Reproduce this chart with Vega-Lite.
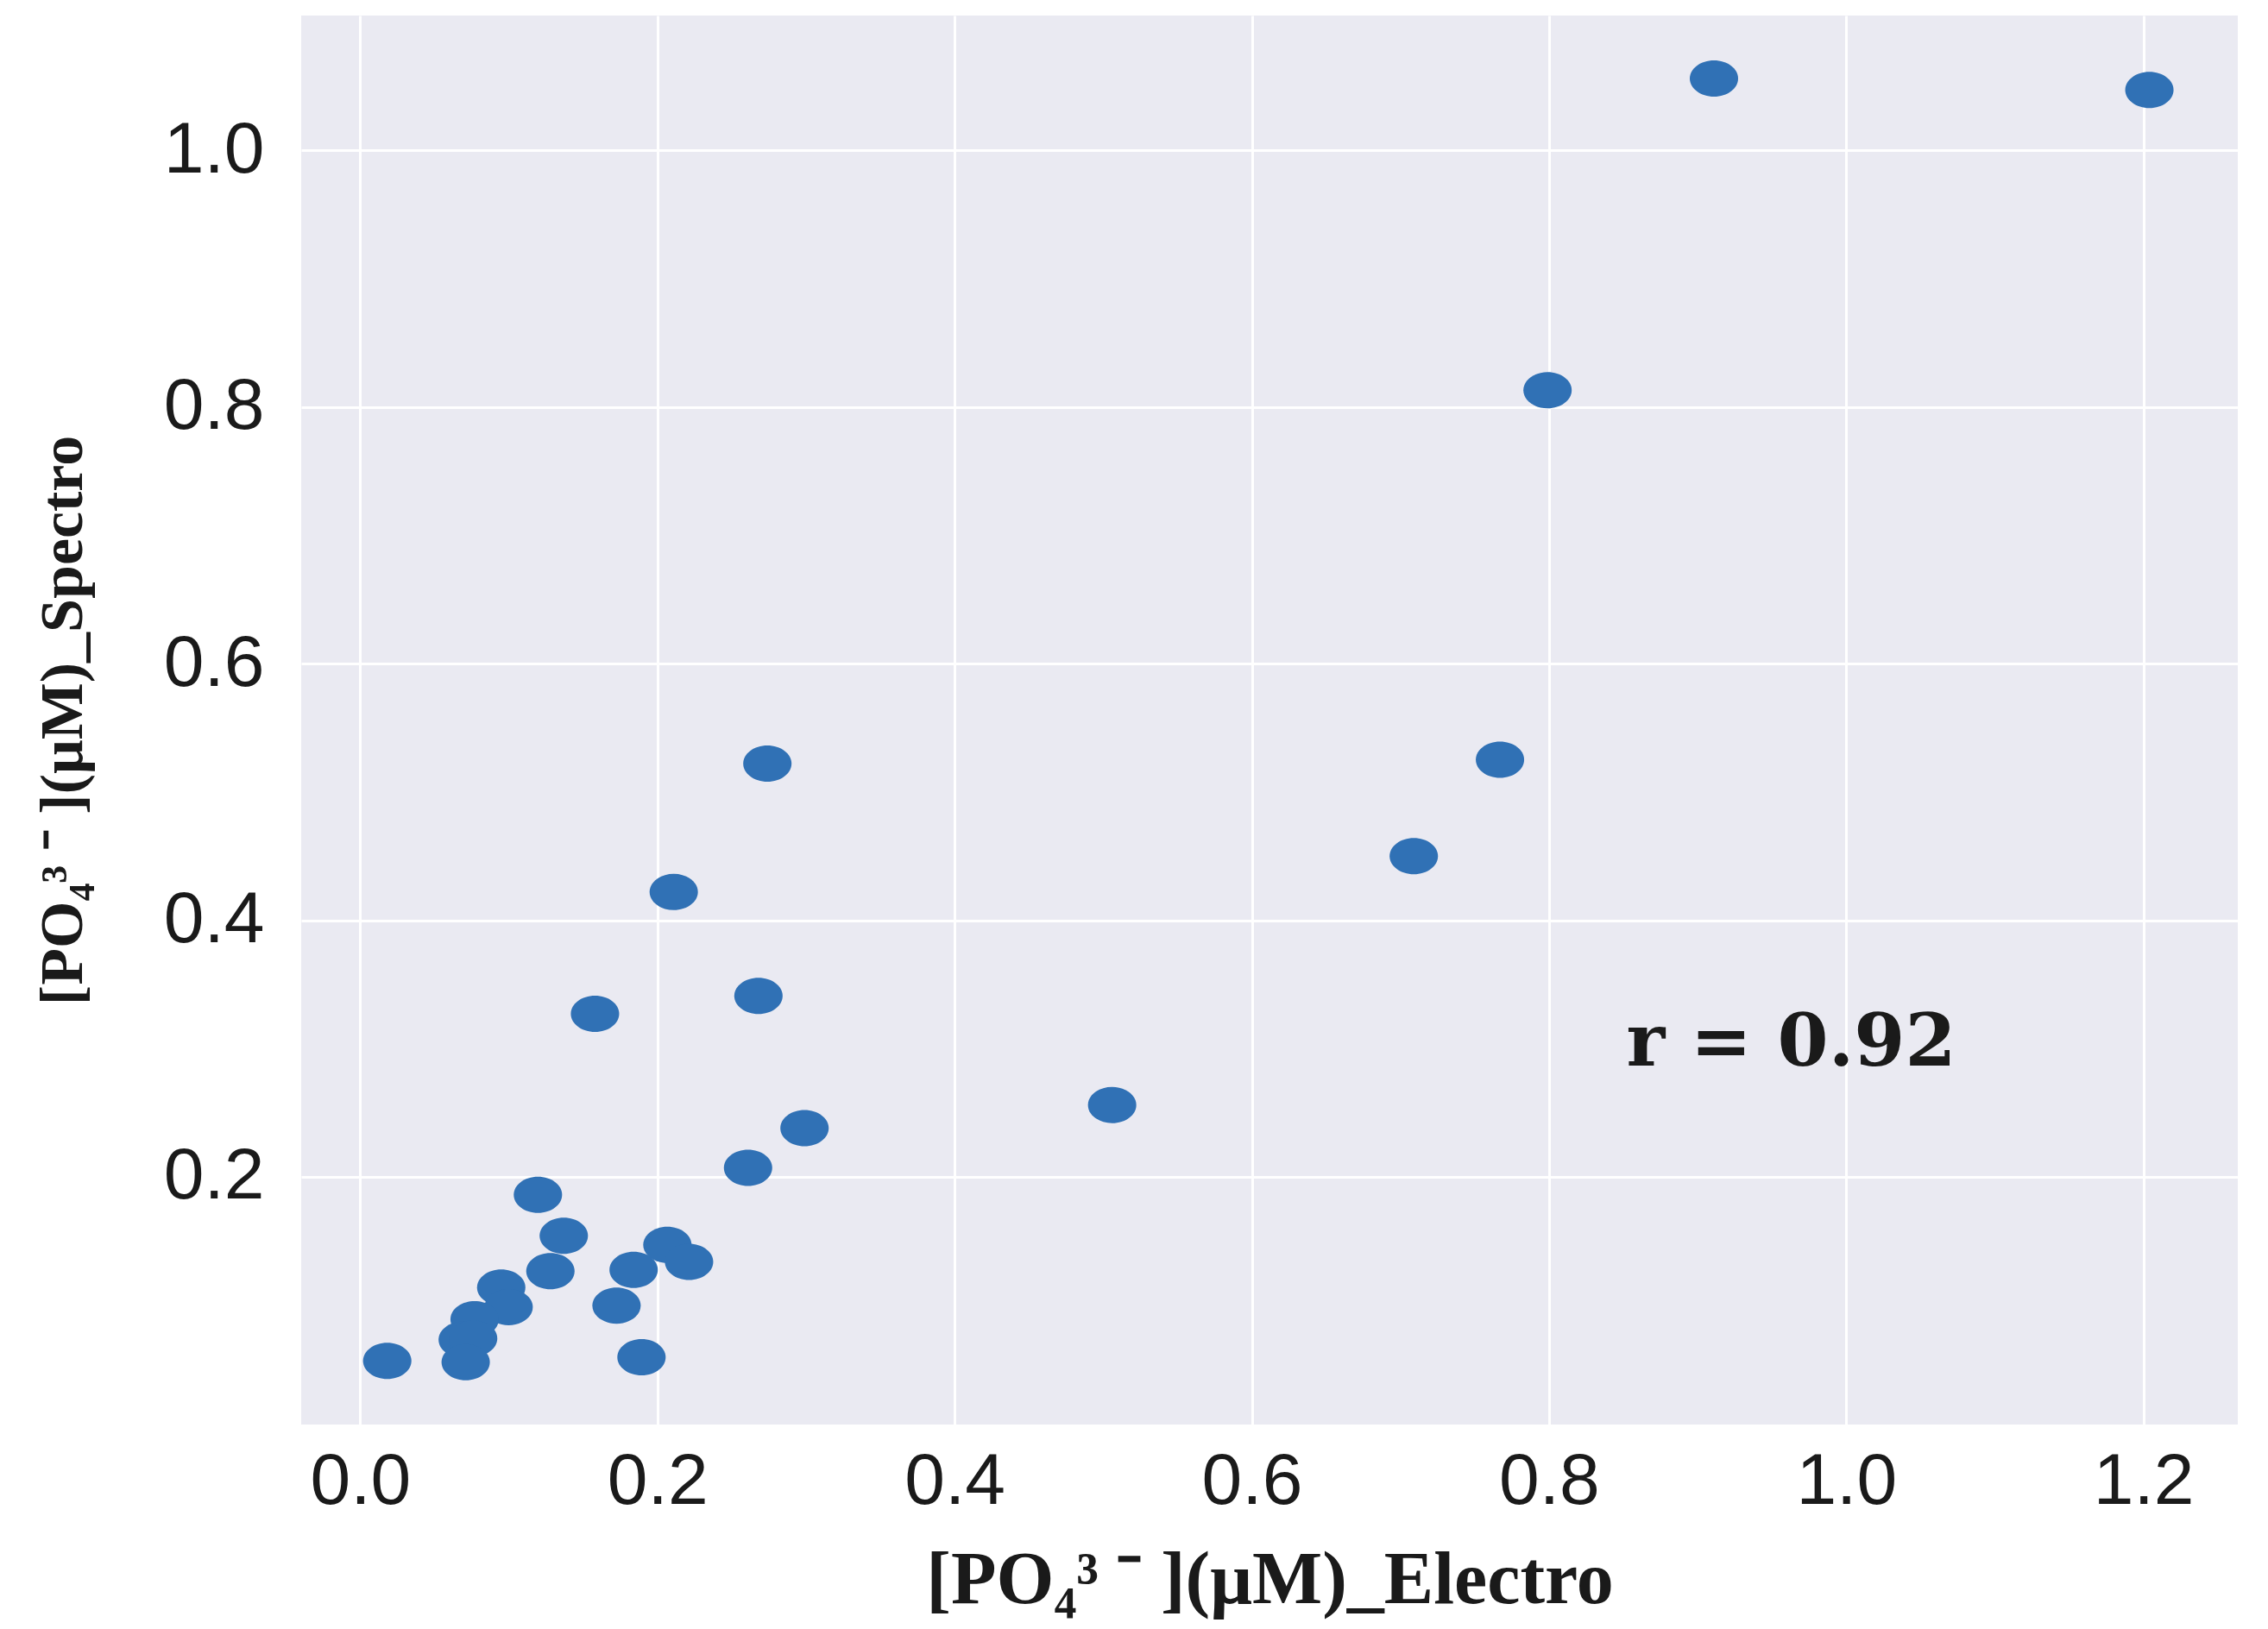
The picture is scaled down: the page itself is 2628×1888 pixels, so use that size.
{
  "$schema": "https://vega.github.io/schema/vega-lite/v6.json",
  "width": 2244,
  "height": 1633,
  "autosize": {"type": "none"},
  "padding": {"left": 349, "top": 18, "right": 35, "bottom": 237},
  "background": "white",
  "config": {
    "view": {"stroke": null, "fill": "#EAEAF2"},
    "axis": {
      "domain": false,
      "ticks": false,
      "tickSize": 0,
      "grid": true,
      "gridColor": "#FFFFFF",
      "gridWidth": 3,
      "labelFont": "Liberation Sans",
      "labelFontSize": 84,
      "labelColor": "#1a1a1a",
      "titleFont": "Liberation Serif",
      "titleFontWeight": "bold",
      "titleColor": "#1a1a1a"
    }
  },
  "data": {
    "values": [
      {"electro": 0.911, "spectro": 1.056},
      {"electro": 1.204, "spectro": 1.047},
      {"electro": 0.799, "spectro": 0.813},
      {"electro": 0.274, "spectro": 0.522},
      {"electro": 0.767, "spectro": 0.525},
      {"electro": 0.709, "spectro": 0.450},
      {"electro": 0.211, "spectro": 0.422},
      {"electro": 0.158, "spectro": 0.327},
      {"electro": 0.268, "spectro": 0.341},
      {"electro": 0.506, "spectro": 0.256},
      {"electro": 0.299, "spectro": 0.238},
      {"electro": 0.261, "spectro": 0.207},
      {"electro": 0.1196, "spectro": 0.186},
      {"electro": 0.137, "spectro": 0.154},
      {"electro": 0.128, "spectro": 0.1265},
      {"electro": 0.2067, "spectro": 0.147},
      {"electro": 0.2213, "spectro": 0.1337},
      {"electro": 0.184, "spectro": 0.1276},
      {"electro": 0.0949, "spectro": 0.1137},
      {"electro": 0.0999, "spectro": 0.0985},
      {"electro": 0.1725, "spectro": 0.0997},
      {"electro": 0.1893, "spectro": 0.0594},
      {"electro": 0.0182, "spectro": 0.0566},
      {"electro": 0.077, "spectro": 0.089},
      {"electro": 0.069, "spectro": 0.073},
      {"electro": 0.076, "spectro": 0.074},
      {"electro": 0.071, "spectro": 0.0555}
    ]
  },
  "layer": [
    {
      "mark": {
        "type": "point",
        "filled": true,
        "opacity": 1,
        "color": "#3071b5",
        "size": 3136,
        "shape": "M-1,0A1,0.75,0,1,1,1,0A1,0.75,0,1,1,-1,0Z"
      },
      "encoding": {
        "x": {
          "field": "electro",
          "type": "quantitative",
          "scale": {"domain": [-0.0397, 1.2635], "nice": false, "zero": false},
          "axis": {
            "values": [0, 0.2, 0.4, 0.6, 0.8, 1.0, 1.2],
            "format": ".1f",
            "labelPadding": 25,
            "title": "[PO₄³ ⁻ ](μM)_Electro",
            "titleFontSize": 86,
            "titlePadding": 30
          }
        },
        "y": {
          "field": "spectro",
          "type": "quantitative",
          "scale": {"domain": [0.007, 1.105], "nice": false, "zero": false},
          "axis": {
            "values": [0.2, 0.4, 0.6, 0.8, 1.0],
            "format": ".1f",
            "labelPadding": 43,
            "title": "[PO₄³ ⁻ ](μM)_Spectro",
            "titleFontSize": 70,
            "titlePadding": 80
          }
        }
      }
    },
    {
      "data": {"values": [{"electro": 0.852, "spectro": 0.287, "label": "r = 0.92"}]},
      "mark": {
        "type": "text",
        "align": "left",
        "baseline": "alphabetic",
        "font": "DejaVu Serif",
        "fontWeight": "bold",
        "fontSize": 85,
        "color": "#1a1a1a"
      },
      "encoding": {
        "x": {"field": "electro", "type": "quantitative"},
        "y": {"field": "spectro", "type": "quantitative"},
        "text": {"field": "label"}
      }
    }
  ]
}
